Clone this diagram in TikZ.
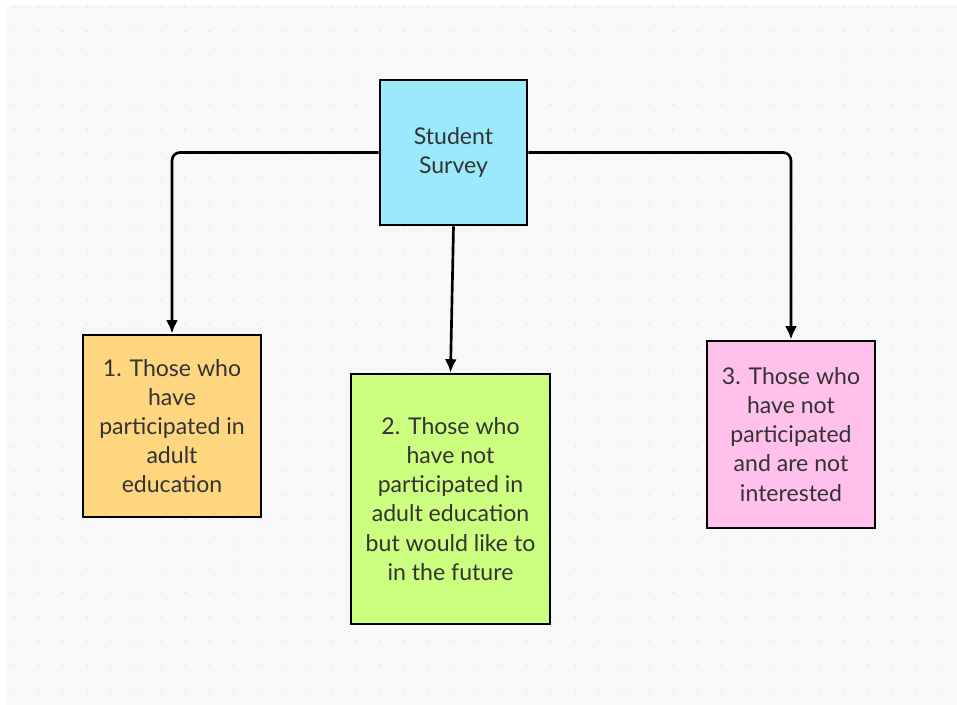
\documentclass[tikz,border=0pt]{standalone}
\usepackage{fontspec}
\setmainfont{Lato}
\usetikzlibrary{arrows.meta}

\definecolor{panel}{HTML}{F8F8F8}
\definecolor{dotc}{HTML}{E8E8E8}
\definecolor{txt}{HTML}{333333}
\definecolor{skyc}{HTML}{9BEAFB}
\definecolor{orangec}{HTML}{FFD680}
\definecolor{limec}{HTML}{CCFF80}
\definecolor{pinkc}{HTML}{FFC0EC}

\begin{document}
\begin{tikzpicture}[x=0.75pt, y=-0.75pt,
  box/.style={draw=black, line width=2.2pt, align=center, text=txt,
    font=\fontsize{17.3}{21.8}\selectfont, inner sep=0pt},
  link/.style={line width=2pt, rounded corners=6pt, -{Latex[length=10pt, width=9pt]}}]

\def\xa{172};   % group 1
\def\xb{450.5}; % group 2
\def\xc{791};   % group 3

% background with dots
\fill[white] (0,0) rectangle (957,705);
\fill[panel] (7,5) rectangle (957,705);
\foreach \i in {0,...,38} {
  \foreach \j in {0,...,28} {
    \fill[dotc] (14 + 24.4*\i, 7 + 24.4*\j) circle (1.1);
  }
}

\node[box, fill=skyc, minimum width=147*0.75pt, minimum height=145*0.75pt]
  (survey) at (453.5, 152.5) {Student\\Survey};

\node[box, fill=orangec, minimum width=178*0.75pt, minimum height=182*0.75pt]
  (one) at (\xa, 426) {1. Those who\\have\\participated in\\adult\\education};
\node[box, fill=limec, minimum width=199*0.75pt, minimum height=250*0.75pt]
  (two) at (\xb, 499) {2. Those who\\have not\\participated in\\adult education\\but would like to\\in the future};
\node[box, fill=pinkc, minimum width=168*0.75pt, minimum height=187*0.75pt]
  (three) at (\xc, 434.5) {3. Those who\\have not\\participated\\and are not\\interested};

\draw[link] (survey.west) -| (one.north);
\draw[link] (survey.south) -- (two.north);
\draw[link] (survey.east) -| (three.north);

\end{tikzpicture}
\end{document}
